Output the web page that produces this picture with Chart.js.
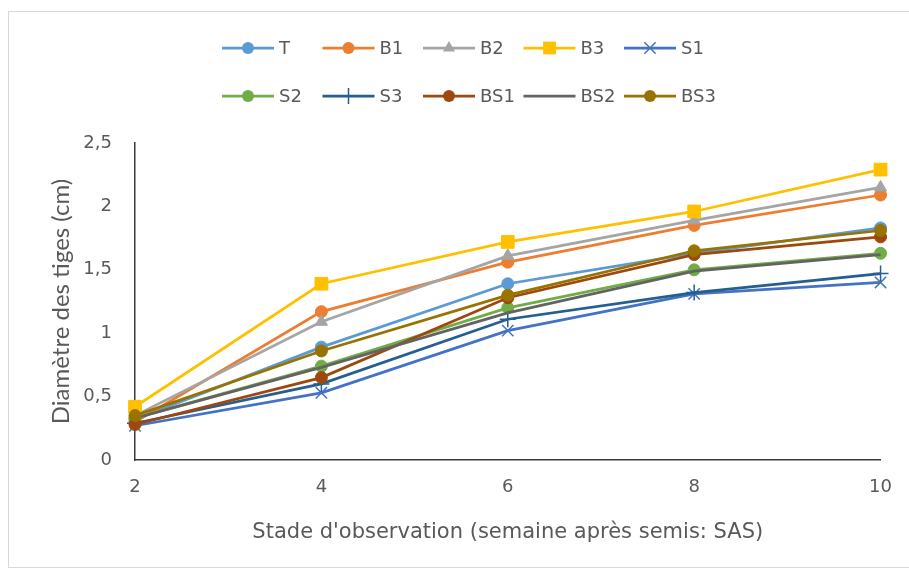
<!DOCTYPE html>
<html>
<head>
<meta charset="utf-8">
<script src="https://cdn.jsdelivr.net/npm/chart.js@4"></script>
<style>
  html, body { margin: 0; padding: 0; background: #fff; }
  #wrap { position: relative; width: 909px; height: 574px; overflow: hidden; }
  #frame { position: absolute; left: 8px; top: 11px; width: 905px; height: 557px; border: 1px solid #d9d9d9; box-sizing: border-box; }
  canvas { position: absolute; left: 0; top: 0; }
</style>
</head>
<body>
<div id="wrap">
  <div id="frame"></div>
  <canvas id="c" width="909" height="574"></canvas>
</div>
<script>
const weeks = ['2', '4', '6', '8', '10'];
const yTickLabels = ['0', '0,5', '1', '1,5', '2', '2,5'];
const seriesNames = ['T', 'B1', 'B2', 'B3', 'S1', 'S2', 'S3', 'BS1', 'BS2', 'BS3'];
const T   = [0.32, 0.89, 1.39, 1.63, 1.83];
const B1  = [0.30, 1.17, 1.56, 1.85, 2.09];
const B2  = [0.35, 1.09, 1.61, 1.89, 2.15];
const B3  = [0.42, 1.39, 1.72, 1.96, 2.29];
const S1  = [0.27, 0.53, 1.02, 1.31, 1.40];
const S2  = [0.33, 0.74, 1.20, 1.50, 1.63];
const S3  = [0.29, 0.60, 1.11, 1.32, 1.47];
const BS1 = [0.28, 0.65, 1.28, 1.62, 1.76];
const BS2 = [0.33, 0.73, 1.16, 1.49, 1.62];
const BS3 = [0.35, 0.86, 1.30, 1.65, 1.81];
const seriesValues = [T, B1, B2, B3, S1, S2, S3, BS1, BS2, BS3];

const colors = ['#5B9BD5', '#ED7D31', '#A5A5A5', '#FFC000', '#4472C4', '#70AD47', '#255E91', '#9E480E', '#636363', '#997300'];
const markers = ['circle', 'circle', 'triangle', 'rect', 'crossRot', 'circle', 'cross', 'circle', false, 'circle'];
const markerRadius = { circle: 6, triangle: 7, rect: 9, crossRot: 8, cross: 8 };

const WIDE = '"DejaVu Sans", sans-serif';
const NARROW = 'Lato, sans-serif';
const TEXT = '#595959';

const datasets = seriesNames.map((name, i) => ({
  label: name,
  data: seriesValues[i],
  borderColor: colors[i],
  backgroundColor: colors[i],
  borderWidth: 2.75,
  pointStyle: markers[i],
  pointRadius: markers[i] ? markerRadius[markers[i]] : 0,
  pointBorderWidth: markers[i] && markers[i].startsWith('cross') ? 1.5 : 1,
  pointBorderColor: colors[i],
  pointBackgroundColor: colors[i],
  tension: 0,
  order: seriesNames.length - i
}));

function drawMarker(ctx, style, x, y, r, color) {
  ctx.save();
  ctx.fillStyle = color; ctx.strokeStyle = color; ctx.lineWidth = 1.5;
  ctx.beginPath();
  if (style === 'circle') { ctx.arc(x, y, r, 0, Math.PI * 2); ctx.fill(); }
  else if (style === 'rect') { const s = r * Math.SQRT1_2; ctx.rect(x - s, y - s, 2 * s, 2 * s); ctx.fill(); }
  else if (style === 'triangle') {
    ctx.moveTo(x, y - r); ctx.lineTo(x + r * 0.866, y + r * 0.5); ctx.lineTo(x - r * 0.866, y + r * 0.5); ctx.closePath(); ctx.fill();
  } else if (style === 'crossRot') {
    const s = r * Math.SQRT1_2; ctx.moveTo(x - s, y - s); ctx.lineTo(x + s, y + s); ctx.moveTo(x + s, y - s); ctx.lineTo(x - s, y + s); ctx.stroke();
  } else if (style === 'cross') {
    ctx.moveTo(x, y - r); ctx.lineTo(x, y + r); ctx.moveTo(x - r, y); ctx.lineTo(x + r, y); ctx.stroke();
  }
  ctx.restore();
}

const legendPlugin = {
  id: 'gridLegend',
  afterDraw(chart) {
    const ctx = chart.ctx;
    ctx.save();
    ctx.font = '18px ' + WIDE;
    ctx.textBaseline = 'middle';
    chart.data.datasets.forEach((ds, i) => {
      const row = Math.floor(i / 5), col = i % 5;
      const x0 = 222 + col * 100.5;
      const y = 48 + row * 48;
      ctx.save();
      ctx.strokeStyle = ds.borderColor; ctx.lineWidth = 2.75;
      ctx.beginPath(); ctx.moveTo(x0, y); ctx.lineTo(x0 + 52, y); ctx.stroke();
      ctx.restore();
      if (ds.pointStyle) drawMarker(ctx, ds.pointStyle, x0 + 26, y, ds.pointRadius, ds.borderColor);
      ctx.fillStyle = TEXT;
      ctx.fillText(ds.label, x0 + 57, y + 1);
    });
    ctx.restore();
  }
};

new Chart(document.getElementById('c'), {
  type: 'line',
  data: { labels: weeks, datasets },
  options: {
    responsive: false,
    animation: false,
    layout: { padding: { top: 143, right: 27, left: 0, bottom: 0 } },
    plugins: { legend: { display: false }, tooltip: { enabled: false } },
    scales: {
      x: {
        type: 'category',
        offset: false,
        grid: { display: false, drawTicks: false },
        border: { display: true, color: '#3a3a3a', width: 1.5 },
        ticks: { color: TEXT, font: { family: WIDE, size: 18 }, padding: 17, maxRotation: 0 },
        title: { display: true, text: "Stade d'observation (semaine après semis: SAS)", color: TEXT, font: { family: WIDE, size: 21 }, padding: { top: 0, bottom: 29 } },
        afterFit(s) { s.height = 114; }
      },
      y: {
        min: 0, max: 2.5,
        grid: { display: false, drawTicks: false },
        border: { display: true, color: '#3a3a3a', width: 1.5 },
        ticks: { stepSize: 0.5, color: TEXT, font: { family: WIDE, size: 18 }, padding: 23,
          callback: (v, idx) => yTickLabels[idx] },
        title: { display: true, text: 'Diamètre des tiges (cm)', color: TEXT, font: { family: NARROW, size: 24 }, padding: { top: 47, bottom: 0 } },
        afterFit(s) { s.width = 135; }
      }
    }
  },
  plugins: [legendPlugin]
});
</script>
</body>
</html>
